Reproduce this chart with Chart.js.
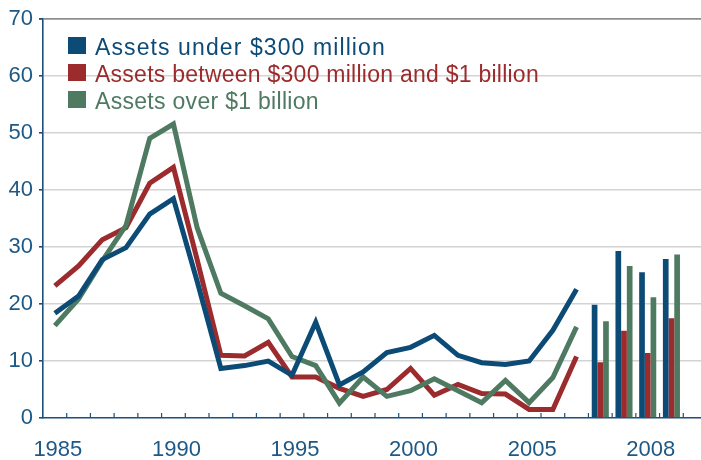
<!DOCTYPE html>
<html>
<head>
<meta charset="utf-8">
<script src="https://cdn.jsdelivr.net/npm/chart.js@4.4.1/dist/chart.umd.min.js"></script>
<style>
  html, body { margin: 0; padding: 0; background: #fff; overflow: hidden; }
  #wrap { position: relative; width: 701px; height: 460px; overflow: hidden; }
  #c { position: absolute; left: 0; top: 0; }
  .item { position: absolute; left: 68px; height: 27px; font-family: "Liberation Sans", Arial, sans-serif;
          font-size: 23px; line-height: 27px; white-space: nowrap; }
  .item .sw { position: absolute; left: 0; top: 3px; width: 17.5px; height: 17.5px; }
  .item .tx { position: absolute; left: 27px; top: 0; }
</style>
</head>
<body>
<div id="wrap">
  <canvas id="c" width="707" height="460"></canvas>
  <div id="legend"></div>
</div>
<script>
// Annual values, 1985-2007
const years = ['1985','1986','1987','1988','1989','1990','1991','1992','1993','1994','1995','1996',
               '1997','1998','1999','2000','2001','2002','2003','2004','2005','2006','2007'];
const under300 = [18.4, 21.4, 27.8, 29.9, 35.8, 38.5, 24.0, 8.7, 9.2, 10.0, 7.5, 16.8,
                  5.8, 8.1, 11.5, 12.4, 14.5, 11.0, 9.7, 9.4, 10.0, 15.4, 22.6];
const between300and1b = [23.2, 26.7, 31.3, 33.4, 41.2, 44.0, 27.8, 11.0, 10.9, 13.3, 7.2, 7.2,
                         5.2, 3.8, 5.0, 8.7, 4.0, 5.9, 4.3, 4.2, 1.5, 1.5, 10.8];
const over1b = [16.2, 20.9, 27.6, 33.8, 49.1, 51.6, 33.4, 21.9, 19.7, 17.4, 10.8, 9.2,
                2.6, 7.2, 3.8, 4.8, 6.9, 4.8, 2.7, 6.6, 2.7, 7.1, 16.0];

// Quarterly values, 2008
const quarters = ['2008 Q1', '2008 Q2', '2008 Q3', '2008 Q4'];
const under300Q = [19.9, 29.3, 25.6, 27.9];
const between300and1bQ = [9.8, 15.3, 11.4, 17.5];
const over1bQ = [17.0, 26.7, 21.2, 28.7];

// Axis labels
const labeledYears = ['1985', '1990', '1995', '2000', '2005'];
const quarterTick = { at: '2008 Q3', text: '2008' };
const yTicks = [0, 10, 20, 30, 40, 50, 60, 70];

const seriesNames = ['Assets under $300 million', 'Assets between $300 million and $1 billion', 'Assets over $1 billion'];
const seriesColors = ['#0d4b77', '#9b2b2c', '#4f7a62'];

const categories = years.concat(quarters, ['']);
const nY = years.length, nQ = quarters.length, nAll = categories.length;
const asLine = arr => arr.concat(new Array(nAll - nY).fill(null));
const asBars = arr => new Array(nY).fill(null).concat(arr, new Array(nAll - nY - nQ).fill(null));

const lineSets = [under300, between300and1b, over1b];
const barSets = [under300Q, between300and1bQ, over1bQ];
const lineOrder = [3, 5, 4];

const datasets = [];
lineSets.forEach((d, i) => datasets.push({
  type: 'line', label: seriesNames[i], data: asLine(d), order: lineOrder[i],
  borderColor: seriesColors[i], backgroundColor: seriesColors[i], borderWidth: 5,
  pointRadius: 0, tension: 0, borderJoinStyle: 'miter', borderCapStyle: 'butt', spanGaps: false
}));
barSets.forEach((d, i) => datasets.push({
  type: 'bar', label: seriesNames[i] + ' (2008)', data: asBars(d), order: i,
  backgroundColor: seriesColors[i], borderWidth: 0,
  categoryPercentage: 0.72, barPercentage: 1.0
}));

const axisBlue = '#1d4f7a';
const labelBlue = '#1e5986';
const tickFont = { family: '"Liberation Sans", Arial, sans-serif', size: 22 };

// Short inward tick marks on the category axis at every slot boundary
const innerTicks = {
  id: 'innerTicks',
  afterDraw(chart) {
    const x = chart.scales.x, area = chart.chartArea, ctx = chart.ctx;
    const step = x.getPixelForValue(1) - x.getPixelForValue(0);
    ctx.save();
    ctx.strokeStyle = axisBlue;
    ctx.lineWidth = 1.2;
    for (let i = 0; i < nAll; i++) {
      const px = x.getPixelForValue(i) + step / 2;
      if (px > area.right - 1) continue;
      ctx.beginPath();
      ctx.moveTo(px, area.bottom);
      ctx.lineTo(px, area.bottom - 5);
      ctx.stroke();
    }
    ctx.restore();
  }
};

new Chart(document.getElementById('c'), {
  data: { labels: categories, datasets },
  options: {
    responsive: false, animation: false, devicePixelRatio: 1,
    layout: { padding: { top: 19, right: 0, left: 0, bottom: 0 } },
    plugins: { legend: { display: false }, tooltip: { enabled: false } },
    scales: {
      x: {
        offset: true,
        grid: { display: false },
        border: { display: true, color: axisBlue, width: 1.6 },
        ticks: {
          autoSkip: false, maxRotation: 0, padding: 11, labelOffset: 3,
          color: labelBlue, font: tickFont,
          callback(v) {
            const c = categories[v];
            if (labeledYears.includes(c)) return c;
            if (c === quarterTick.at) return quarterTick.text;
            return '';
          }
        },
        afterFit(s) { s.height = 42; }
      },
      y: {
        min: 0, max: 70,
        afterBuildTicks(s) { s.ticks = yTicks.map(v => ({ value: v })); },
        grid: {
          color: c => c.tick.value === 70 ? '#8e8e8e' : (c.tick.value === 0 ? 'rgba(0,0,0,0)' : '#d3d3d3'),
          lineWidth: c => c.tick.value === 70 ? 1.8 : 1.6,
          tickColor: axisBlue, tickLength: 4, drawTicks: true
        },
        border: { display: true, color: axisBlue, width: 1.6 },
        ticks: { padding: 6, color: labelBlue, font: tickFont },
        afterFit(s) { s.width = 43; }
      }
    }
  },
  plugins: [innerTicks]
});

// Legend
const legendTops = [33.5, 60.8, 87.5];
const legendSpacing = ['1.1px', '0.25px', '0.3px'];
const legend = document.getElementById('legend');
seriesNames.forEach((name, i) => {
  const row = document.createElement('div');
  row.className = 'item';
  row.style.top = legendTops[i] + 'px';
  row.innerHTML = '<span class="sw"></span><span class="tx"></span>';
  row.querySelector('.sw').style.background = seriesColors[i];
  const tx = row.querySelector('.tx');
  tx.textContent = name;
  tx.style.color = seriesColors[i];
  tx.style.letterSpacing = legendSpacing[i];
  legend.appendChild(row);
});
</script>
</body>
</html>
